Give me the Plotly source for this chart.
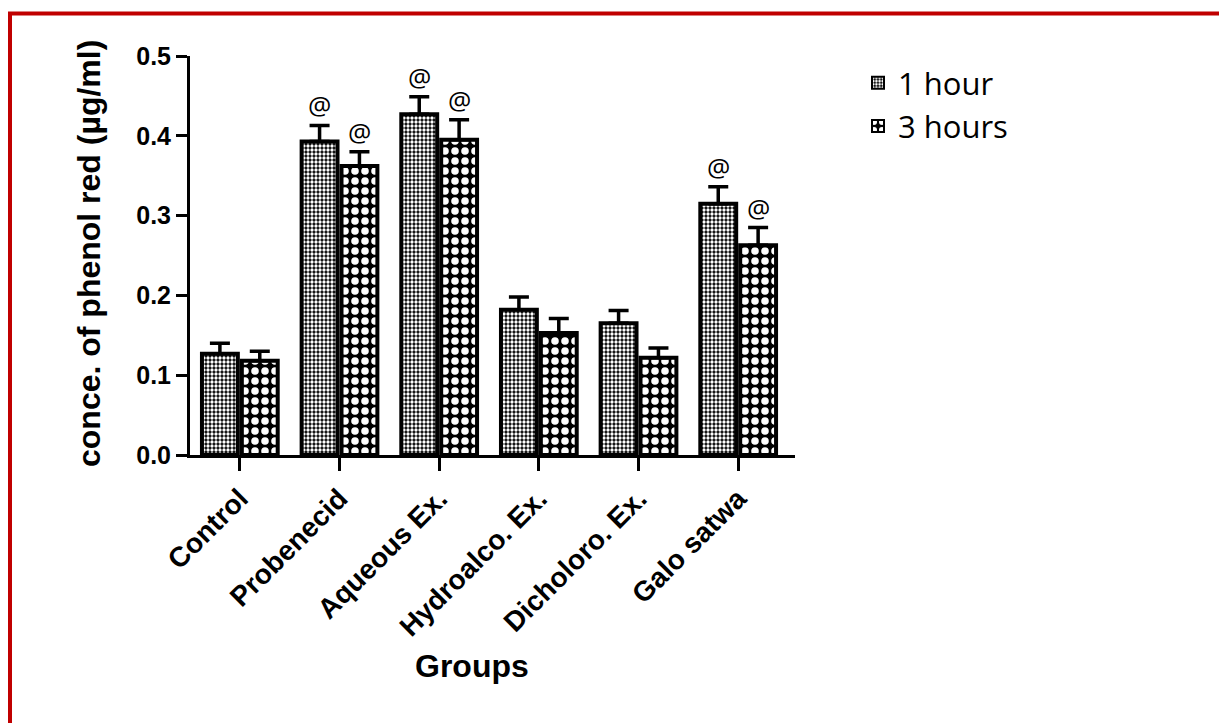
import plotly.graph_objects as go

# Phenol red concentration by treatment group, at 1 h and 3 h
groups = ["Control", "Probenecid", "Aqueous Ex.", "Hydroalco. Ex.", "Dicholoro. Ex.", "Galo satwa"]
mean_1h = [0.127, 0.393, 0.427, 0.182, 0.165, 0.315]
sem_1h = [0.013, 0.020, 0.022, 0.016, 0.016, 0.021]
mean_3h = [0.118, 0.362, 0.395, 0.153, 0.122, 0.263]
sem_3h = [0.012, 0.018, 0.025, 0.018, 0.012, 0.022]
sig_1h = ["", "@", "@", "", "", "@"]
sig_3h = ["", "@", "@", "", "", "@"]

W, H = 1219, 723
L, R, T, B = 190, 424, 56, 268
pw, ph = W - L - R, H - T - B

def px_x(p):
    return (p - L) / pw

def px_y(p):
    return (H - B - p) / ph

err_style = dict(type="data", symmetric=False, color="black", thickness=3.5, width=10)

fig = go.Figure()
fig.add_trace(go.Bar(
    name="1 hour", x=groups, y=mean_1h,
    marker=dict(color="black", line=dict(color="black", width=4),
                pattern=dict(shape=".", fgcolor="#ffffff", bgcolor="#000000", fgopacity=1,
                             fillmode="replace", size=4, solidity=0.55)),
    error_y=dict(array=sem_1h, arrayminus=[0] * len(sem_1h), **err_style),
))
fig.add_trace(go.Bar(
    name="3 hours", x=groups, y=mean_3h,
    marker=dict(color="black", line=dict(color="black", width=4),
                pattern=dict(shape=".", fgcolor="#ffffff", bgcolor="#000000", fgopacity=1,
                             fillmode="replace", size=10, solidity=0.45)),
    error_y=dict(array=sem_3h, arrayminus=[0] * len(sem_3h), **err_style),
))

# significance marks above each error bar
annotations = []
for i, g in enumerate(groups):
    for off, m, s, flag in ((-0.2, mean_1h[i], sem_1h[i], sig_1h[i]), (0.2, mean_3h[i], sem_3h[i], sig_3h[i])):
        if flag:
            annotations.append(dict(x=i + off, y=m + s, xref="x", yref="y", text=flag, showarrow=False,
                                    yanchor="bottom", yshift=0,
                                    font=dict(family="Open Sans", size=26, color="black")))

annotations.append(dict(x=px_x(69), y=px_y(254), xref="paper", yref="paper",
                        text="conce. of phenol red (µg/ml)", textangle=-90, showarrow=False,
                        font=dict(family="Liberation Sans", size=32, color="black", weight="bold")))
annotations.append(dict(x=px_x(472), y=px_y(686), xref="paper", yref="paper",
                        text="Groups", showarrow=False,
                        font=dict(family="Liberation Sans", size=32, color="black", weight="bold")))

fig.update_layout(
    width=W, height=H,
    margin=dict(l=L, r=R, t=T, b=B),
    paper_bgcolor="white", plot_bgcolor="white",
    barmode="group", bargap=0.2, bargroupgap=0.1,
    annotations=annotations,
    legend=dict(x=px_x(858), y=px_y(56), xanchor="left", yanchor="top",
                font=dict(family="Open Sans", size=31, color="black"),
                itemsizing="constant"),
    xaxis=dict(range=[-0.5, 5.57], showline=True, linecolor="black", linewidth=3,
               ticks="outside", ticklen=13, tickwidth=3, tickcolor="black", tickangle=-45,
               tickfont=dict(family="Liberation Sans", size=28, color="black", weight="bold"),
               showgrid=False, zeroline=False),
    yaxis=dict(range=[0, 0.5], dtick=0.1, tickformat=".1f", showline=True, linecolor="black",
               linewidth=3, ticks="outside", ticklen=11, tickwidth=3, tickcolor="black",
               tickfont=dict(family="Liberation Sans", size=25, color="black", weight="bold"),
               showgrid=False, zeroline=False),
    shapes=[dict(type="rect", xref="paper", yref="paper",
                 x0=px_x(10), x1=px_x(1240), y0=px_y(740), y1=px_y(13.5),
                 line=dict(color="#c00000", width=4), fillcolor="rgba(0,0,0,0)", layer="below")],
)

fig.write_html("out.html")
